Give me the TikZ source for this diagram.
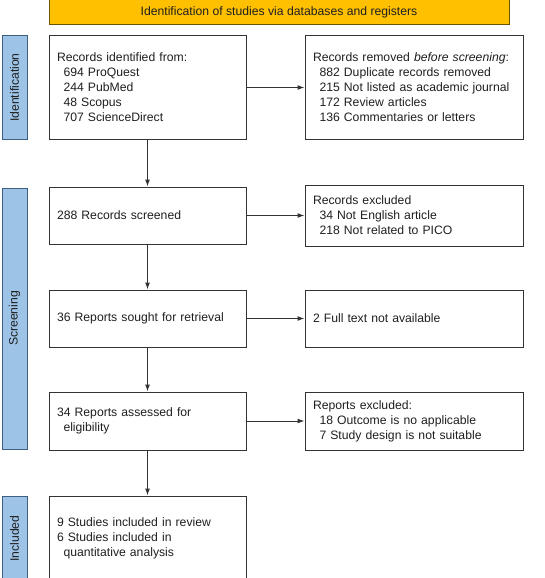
\documentclass[tikz,border=0pt]{standalone}
\usepackage{fontspec}
\setmainfont{Liberation Sans}
\usetikzlibrary{arrows, arrows.meta, shapes, positioning, calc}

\definecolor{bannergold}{HTML}{FFC000}
\definecolor{bannerline}{HTML}{6B5300}
\definecolor{sideblue}{HTML}{9DC3E6}
\definecolor{sideline}{HTML}{3E5F80}
\definecolor{boxline}{HTML}{333333}
\definecolor{txt}{HTML}{1F1F1F}
\newcommand{\ind}{\hspace*{6.5pt}}

\begin{document}
\begin{tikzpicture}[x=1pt, y=1pt,
    every node/.style={font=\fontsize{12.2}{15}\selectfont, text=txt},
    box/.style={rectangle, draw=boxline, line width=1pt, align=left, inner xsep=8pt, inner ysep=0pt},
    lbox/.style={box, text width=181pt},
    rbox/.style={box, text width=202pt},
    banner/.style={rectangle, draw=bannerline, fill=bannergold, line width=1pt, minimum width=460pt, minimum height=26pt, inner sep=0pt},
    sidelab/.style={rectangle, draw=sideline, fill=sideblue, line width=1pt, rotate=90, minimum height=25pt, inner sep=0pt},
    flow/.style={-{Latex[length=7pt, width=5pt]}, draw=boxline, line width=1pt}]
    \useasboundingbox (0,0) rectangle (544,-578);

    \node[lbox, minimum height=103pt] (recs) at (147.5,-87.5) {Records identified from:\\ \ind 694 ProQuest\\ \ind 244 PubMed\\ \ind 48 Scopus\\ \ind 707 ScienceDirect};
    \node[rbox, minimum height=103pt, right=58pt of recs] (removed) {Records removed \emph{before screening}:\\ \ind 882 Duplicate records removed\\ \ind 215 Not listed as academic journal\\ \ind 172 Review articles\\ \ind 136 Commentaries or letters};
    \node[banner, above right=10pt and 0pt of recs.north west] (banner) {Identification of studies via databases and registers};

    \node[lbox, minimum height=57pt, below=47pt of recs] (screened) {288 Records screened};
    \node[rbox, minimum height=61pt, right=58pt of screened] (excluded) {Records excluded\\ \ind 34 Not English article\\ \ind 218 Not related to PICO};
    \node[lbox, minimum height=57pt, below=45pt of screened] (sought) {36 Reports sought for retrieval};
    \node[rbox, minimum height=57pt, right=58pt of sought] (notavail) {2 Full text not available};
    \node[lbox, minimum height=58pt, below=44pt of sought] (assessed) {34 Reports assessed for\\ \ind eligibility};
    \node[rbox, minimum height=58pt, right=58pt of assessed] (repexcl) {Reports excluded:\\ \ind 18 Outcome is no applicable\\ \ind 7 Study design is not suitable};
    \node[lbox, minimum height=85pt, below=45pt of assessed] (included) {9 Studies included in review\\6 Studies included in\\ \ind quantitative analysis};

    % phase labels on the left
    \coordinate (lx) at (14.5,0);
    \node[sidelab, minimum width=103pt] (identlab) at (lx |- recs) {Identification};
    \node[sidelab, minimum width=261pt] (screenlab) at ($(lx |- screened.north)!0.5!(lx |- assessed.south)$) {Screening};
    \node[sidelab, minimum width=85pt] (inclab) at (lx |- included) {Included};

    \draw[flow] (recs) -- (removed);
    \draw[flow] (recs) -- (screened);
    \draw[flow] (screened) -- (excluded);
    \draw[flow] (screened) -- (sought);
    \draw[flow] (sought) -- (notavail);
    \draw[flow] (sought) -- (assessed);
    \draw[flow] (assessed) -- (repexcl);
    \draw[flow] (assessed) -- (included);
\end{tikzpicture}
\end{document}
